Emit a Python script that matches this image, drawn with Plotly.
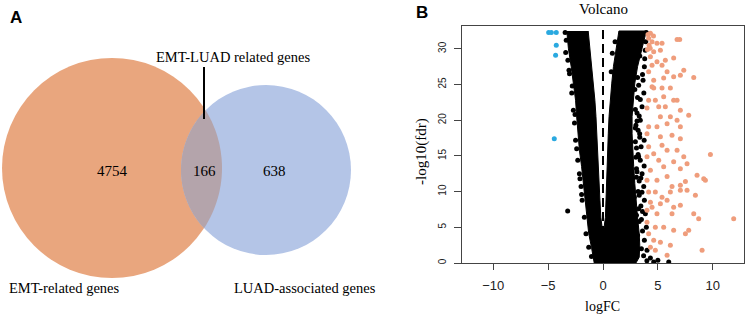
import numpy as np
import plotly.graph_objects as go

# ---------------- Panel A : Venn diagram data ----------------
venn_counts = [4754, 166, 638]          # EMT only, overlap, LUAD only
venn_set_labels = ["EMT-related genes", "LUAD-associated genes"]
venn_overlap_label = "EMT-LUAD related genes"

# ---------------- Panel B : volcano data ----------------
# up-regulated genes (orange)
up_logfc = [4.32, 4.16, 4.47, 4.92, 5.38, 6.75, 6.99, 4.62, 5.23, 4.32,
            4.92, 5.68, 6.44, 4.47, 5.38, 4.16, 5.84, 7.36, 7.05, 8.27,
            4.62, 5.53, 6.44, 4.47, 4.62, 5.38, 6.14, 4.16, 4.77, 5.53,
            6.44, 6.75, 4.01, 5.08, 5.68, 7.05, 7.81, 6.14, 5.23, 4.16,
            4.92, 5.84, 6.75, 7.05, 4.01, 5.23, 6.29, 7.05, 4.16, 5.38,
            4.62, 5.84, 6.75, 4.01, 5.08, 6.44, 7.36, 9.79, 4.32, 5.53,
            7.05, 7.66, 4.01, 4.92, 5.84, 6.29, 7.05, 7.51, 8.57, 9.18,
            9.33, 4.16, 4.77, 5.38, 6.14, 7.05, 7.66, 8.42, 4.32, 5.23,
            5.84, 6.44, 7.05, 8.27, 8.72, 11.91, 4.01, 4.47, 4.92, 6.29,
            4.01, 4.77, 5.53, 6.44, 7.51, 7.81, 4.16, 4.62, 5.23, 6.14,
            4.32, 4.77, 5.84, 9.03, 4.10, 4.20, 4.05, 4.30, 4.60]
up_fdr = [32.2, 31.5, 31.0, 30.8, 30.8, 31.3, 31.3, 29.6, 29.8, 28.9,
          28.2, 28.4, 28.7, 27.7, 27.7, 26.8, 26.8, 27.0, 26.3, 26.0,
          25.6, 25.9, 26.1, 24.7, 24.5, 24.5, 24.5, 22.8, 22.8, 23.3,
          22.8, 22.8, 21.7, 21.9, 21.9, 21.4, 20.7, 20.5, 20.5, 19.1,
          19.1, 19.5, 20.0, 19.1, 18.1, 17.7, 17.9, 17.4, 16.3, 16.5,
          15.3, 15.8, 15.8, 14.9, 14.4, 14.2, 14.9, 15.2, 13.0, 13.5,
          13.2, 13.9, 11.6, 11.6, 12.1, 10.7, 10.9, 11.4, 12.3, 11.8,
          11.6, 9.95, 9.95, 9.2, 9.95, 10.2, 10.2, 9.5, 8.5, 8.3,
          8.8, 7.8, 8.1, 6.9, 6.2, 6.2, 7.4, 7.8, 6.9, 6.9,
          5.7, 5.0, 5.0, 4.6, 4.1, 4.6, 4.1, 3.2, 2.9, 2.5,
          2.2, 1.8, 1.1, 1.8, 32.0, 30.5, 29.9, 30.1, 31.8]

# down-regulated genes (blue)
down_logfc = [-4.95, -4.71, -4.26, -4.26, -4.32, -4.44]
down_fdr = [32.3, 32.3, 32.3, 30.5, 29.1, 17.4]

# scattered non-significant genes (black)
ns_logfc = [-3.45, -3.35, -3.40, -3.20, -3.05, -2.70, -2.85, -2.60, -2.50, -2.30,
            -2.15, -2.00, -1.90, -1.70, -1.55, -1.30, -1.05, -3.22, -2.40, -2.55,
            3.95, 3.90, 3.85, 3.80, 3.77, 3.60, 3.65, 3.72, 3.40, 3.56,
            3.10, 3.40, 3.00, 3.34, 3.75, 2.95, 3.47, 3.20, 3.40, 3.75,
            3.05, 3.56, 3.30, 3.71, 3.20, 3.77, 3.45, 3.60, 3.86, 3.30,
            3.95, 3.60, 3.77, 3.50, 4.01, 3.70, 4.32, 4.00, 5.00, 5.99,
            4.62, 2.90, 2.85, 3.05, -2.80, -3.10, -2.10, -1.95, 2.95, 3.00,
            3.05, 2.95, 3.15, 3.35, 0.85, 0.75, 1.10,
            3.25, 3.15, 3.30, 3.10, 3.20, 3.35, 3.05, 3.25, 3.10, 3.45,
            3.30, 3.55, 3.25, 3.50, 3.15]
ns_fdr = [32.3, 31.2, 29.5, 28.4, 26.5, 21.4, 23.8, 19.6, 17.2, 14.4,
          12.5, 10.7, 8.8, 6.4, 4.1, 2.2, 0.9, 7.3, 16.0, 20.8,
          32.3, 31.0, 29.8, 28.6, 27.5, 26.4, 25.6, 23.8, 22.9, 21.9,
          21.0, 20.0, 19.3, 18.1, 17.2, 17.0, 16.3, 15.2, 14.4, 13.6,
          13.2, 12.5, 11.5, 10.7, 10.0, 8.8, 8.0, 7.2, 6.9, 5.8,
          5.0, 4.5, 3.2, 2.0, 1.8, 1.0, 0.7, 0.3, 0.4, 0.15,
          0.15, 24.3, 9.2, 6.7, 24.8, 27.0, 11.8, 9.6, 18.9, 14.8,
          12.0, 21.5, 26.0, 29.0, 29.4, 26.8, 31.0,
          24.9, 23.2, 20.6, 19.9, 18.6, 17.6, 16.1, 14.9, 12.8, 11.9,
          9.5, 9.9, 7.6, 6.1, 3.9]

# outline of the densely packed non-significant genes (solid black mass)
ns_core_logfc = [-3.30, -3.15, -2.90, -2.70, -2.50, -2.40, -2.30, -2.15, -1.95, -1.80,
                 -1.65, -1.45, -1.30, -1.05, -0.90, -0.80, 3.00, 3.30, 3.35, 3.30,
                 3.15, 3.00, 2.90, 2.80, 2.70, 2.65, 2.65, 2.75, 2.90, 3.15,
                 3.50, 3.95, 1.45, 1.20, 0.95, 0.80, 0.65, 0.55, 0.48, 0.42,
                 0.36, 0.32, 0.28, 0.22, 0.10, 0.02, -0.08, -0.20, -0.28, -0.34,
                 -0.40, -0.46, -0.54, -0.64, -0.74, -0.88, -1.02, -1.15, -1.35]
ns_core_fdr = [32.5, 30.0, 27.5, 25.2, 22.8, 20.5, 18.1, 15.8, 13.5, 11.1,
               8.8, 6.4, 4.1, 2.2, 0.8, 0.0, 0.0, 0.8, 2.5, 4.1,
               6.4, 8.8, 11.1, 13.5, 15.8, 18.1, 20.5, 22.8, 25.2, 27.5,
               29.8, 32.5, 32.5, 30.0, 27.5, 25.2, 22.8, 20.5, 18.1, 15.8,
               13.5, 11.1, 8.8, 6.4, 5.0, 4.0, 5.0, 6.4, 8.8, 11.1,
               13.5, 15.8, 18.1, 20.5, 22.8, 25.2, 27.5, 29.8, 32.5]

fc_line = [0]                      # dashed reference line at logFC = 0
x_ticks = [-10, -5, 0, 5, 10]
y_ticks = [0, 5, 10, 15, 20, 25, 30]

# ---------------- layout helpers ----------------
W, H = 747, 315
SERIF = "Liberation Serif, Times New Roman, serif"
SANS = "Liberation Sans, Arial, sans-serif"


def P(x, y):
    return x / W, 1 - y / H


fig = go.Figure()

# black dense mass
fig.add_trace(go.Scatter(x=ns_core_logfc, y=ns_core_fdr, mode="lines", fill="toself",
                         fillcolor="black", line=dict(color="black", width=1),
                         hoverinfo="skip", showlegend=False))
fig.add_trace(go.Scatter(x=ns_logfc, y=ns_fdr, mode="markers",
                         marker=dict(color="black", size=5), showlegend=False))
fig.add_trace(go.Scatter(x=up_logfc, y=up_fdr, mode="markers",
                         marker=dict(color="#EF9D7C", size=5), showlegend=False))
fig.add_trace(go.Scatter(x=down_logfc, y=down_fdr, mode="markers",
                         marker=dict(color="#2AA9E0", size=5), showlegend=False))
fig.add_trace(go.Scatter(x=fc_line * 2, y=[0, 33.2], mode="lines",
                         line=dict(color="black", width=2, dash="9px,5px"),
                         showlegend=False, hoverinfo="skip"))

# axes (panel B)
fig.update_layout(
    width=W, height=H, autosize=False,
    margin=dict(l=0, r=0, t=0, b=0, pad=0),
    paper_bgcolor="white", plot_bgcolor="white",
    xaxis=dict(domain=[462 / W, 744 / W], range=[-12.85, 12.85], automargin=False,
               tickvals=x_ticks, ticks="outside", ticklen=6, tickcolor="#444",
               showline=True, mirror=True, linecolor="#444", linewidth=1,
               showgrid=False, zeroline=False,
               tickfont=dict(family=SANS, size=13, color="#222"),
               ticklabelstandoff=4),
    yaxis=dict(domain=[(H - 263) / H, (H - 26) / H], range=[0, 33.2], automargin=False,
               tickvals=y_ticks, ticks="outside", ticklen=7, tickcolor="#444",
               showline=True, mirror=True, linecolor="#444", linewidth=1,
               showgrid=False, zeroline=False, tickangle=-90,
               tickfont=dict(family=SANS, size=10, color="#222"),
               ticklabelstandoff=4),
)

# ---------------- Panel A : Venn shapes ----------------
c1, r1 = np.array([112.0, 168.0]), 110.0
c2, r2 = np.array([266.0, 170.0]), 85.0
shapes = []
for (c, r, col) in [(c1, r1, "#E9A67E"), (c2, r2, "#B4C5E7")]:
    x0, y0 = P(c[0] - r, c[1] - r)
    x1, y1 = P(c[0] + r, c[1] + r)
    shapes.append(dict(type="circle", xref="paper", yref="paper",
                       x0=x0, x1=x1, y0=y1, y1=y0,
                       fillcolor=col, line=dict(width=0), layer="below"))
# lens (intersection)
d = np.linalg.norm(c2 - c1)
a = (d ** 2 + r1 ** 2 - r2 ** 2) / (2 * d)
phi = np.arctan2(c2[1] - c1[1], c2[0] - c1[0])
al1 = np.arccos(a / r1)
al2 = np.arccos((d - a) / r2)
t1 = np.linspace(phi - al1, phi + al1, 60)
t2 = np.linspace(phi + np.pi - al2, phi + np.pi + al2, 60)
pts = [c1 + r1 * np.array([np.cos(t), np.sin(t)]) for t in t1] + \
      [c2 + r2 * np.array([np.cos(t), np.sin(t)]) for t in t2]
path = "M " + " L ".join("%.5f,%.5f" % P(p[0], p[1]) for p in pts) + " Z"
shapes.append(dict(type="path", xref="paper", yref="paper", path=path,
                   fillcolor="#B4A4AB", line=dict(width=0), layer="below"))
# pointer line to overlap label
lx0, ly0 = P(204, 67)
lx1, ly1 = P(204, 119)
shapes.append(dict(type="line", xref="paper", yref="paper", x0=lx0, y0=ly0,
                   x1=lx1, y1=ly1, line=dict(color="black", width=2)))
fig.update_layout(shapes=shapes)

# ---------------- annotations ----------------
ann = []


def txt(s, x, y, size, family=SERIF, angle=0, bold=False):
    px, py = P(x, y)
    ann.append(dict(text=("<b>%s</b>" % s) if bold else s, x=px, y=py,
                    xref="paper", yref="paper", showarrow=False,
                    xanchor="center", yanchor="middle", textangle=angle,
                    font=dict(family=family, size=size, color="black")))


txt(str(venn_counts[0]), 112, 171, 15)
txt(str(venn_counts[1]), 204, 171, 15)
txt(str(venn_counts[2]), 274, 171, 15)
txt(venn_overlap_label, 233, 57, 14.5)
txt(venn_set_labels[0], 64, 288, 14.5)
txt(venn_set_labels[1], 305, 288, 14.5)
txt("A", 16, 17, 17, family=SANS, bold=True)
txt("B", 422, 13, 17, family=SANS, bold=True)
txt("Volcano", 603, 9, 15)
txt("logFC", 602, 306, 14)
txt("-log10(fdr)", 421, 152, 15, angle=-90)
fig.update_layout(annotations=ann)

fig.write_html("out.html", config={"displayModeBar": False},
               post_script="document.body.style.margin='0';document.body.style.padding='0';")
